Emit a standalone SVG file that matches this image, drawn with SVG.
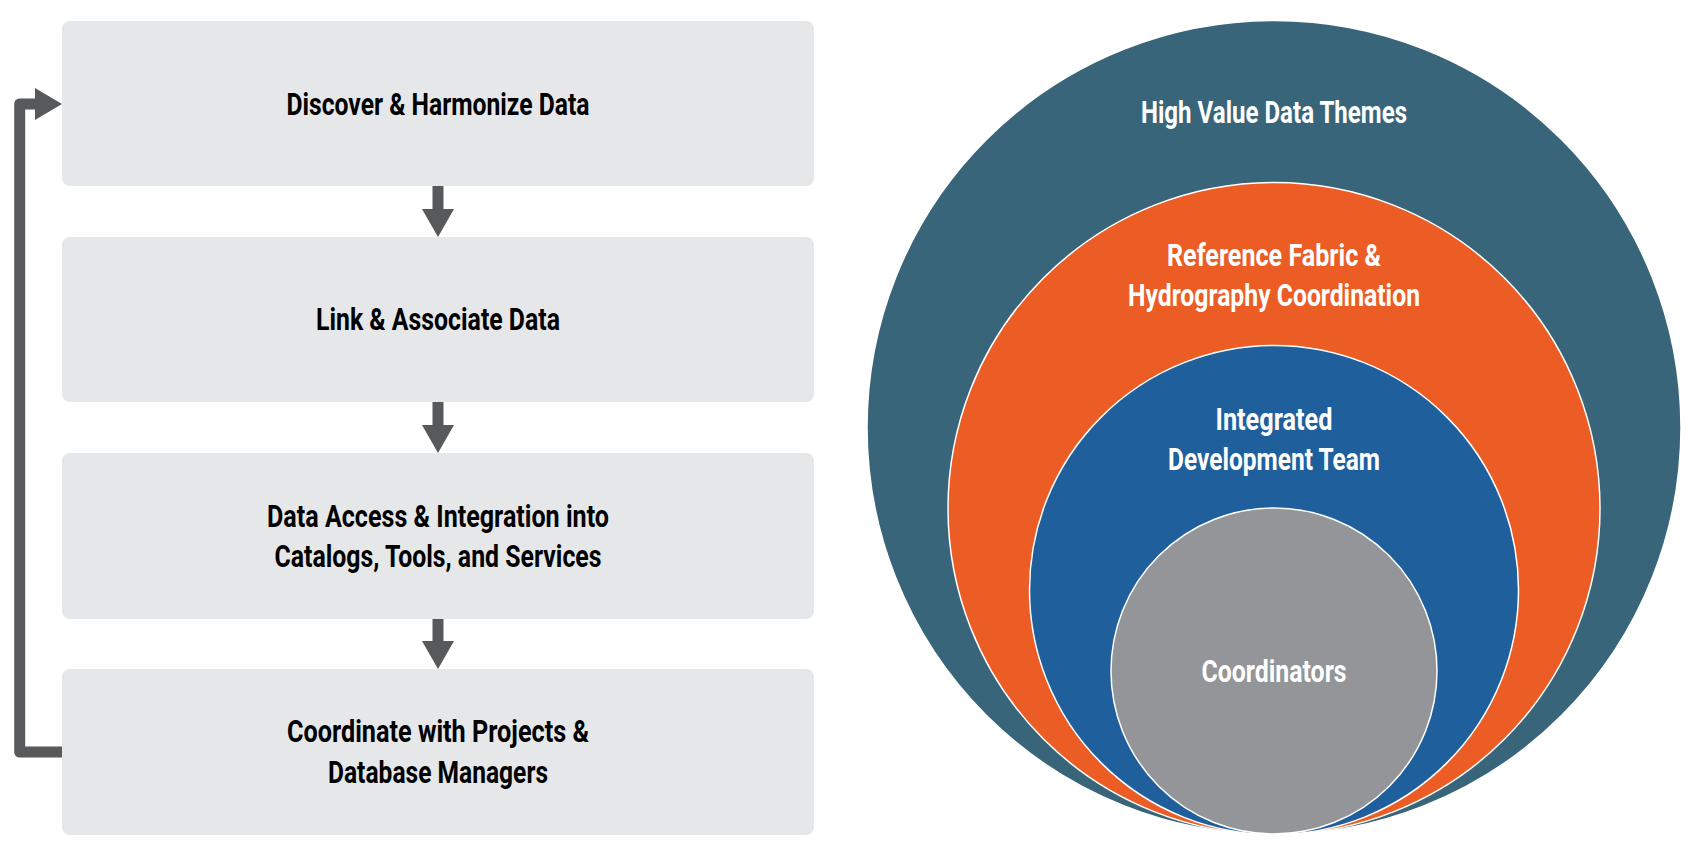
<svg xmlns="http://www.w3.org/2000/svg" width="1702" height="856" viewBox="0 0 1702 856">
  <defs>
    <style>
      .step { fill: #e6e7e9; }
      .step-label { font-family: Roboto, "Liberation Sans", sans-serif; font-weight: 700; font-size: 31px; fill: #000; text-anchor: middle; }
      .ring { stroke: #ffffff; stroke-width: 1.5; }
      .ring-label { font-family: Roboto, "Liberation Sans", sans-serif; font-weight: 700; font-size: 31px; fill: #ffffff; text-anchor: middle; }
      .flow { fill: none; stroke: #58595b; stroke-width: 11; }
      .flow-head { fill: #58595b; }
    </style>
  </defs>

  <rect width="1702" height="856" fill="#ffffff"/>

  <!-- Process steps -->
  <g id="step-discover">
    <rect class="step" x="62" y="21" width="752" height="165" rx="8"/>
    <text class="step-label" x="438" y="115" textLength="303" lengthAdjust="spacingAndGlyphs">Discover &amp; Harmonize Data</text>
  </g>
  <g id="step-link">
    <rect class="step" x="62" y="237" width="752" height="165" rx="8"/>
    <text class="step-label" x="438" y="330" textLength="244" lengthAdjust="spacingAndGlyphs">Link &amp; Associate Data</text>
  </g>
  <g id="step-access">
    <rect class="step" x="62" y="453" width="752" height="166" rx="8"/>
    <text class="step-label" x="438" y="527" textLength="342" lengthAdjust="spacingAndGlyphs">Data Access &amp; Integration into</text>
    <text class="step-label" x="438" y="567" textLength="327" lengthAdjust="spacingAndGlyphs">Catalogs, Tools, and Services</text>
  </g>
  <g id="step-coordinate">
    <rect class="step" x="62" y="669" width="752" height="166" rx="8"/>
    <text class="step-label" x="438" y="742" textLength="302" lengthAdjust="spacingAndGlyphs">Coordinate with Projects &amp;</text>
    <text class="step-label" x="438" y="783" textLength="220" lengthAdjust="spacingAndGlyphs">Database Managers</text>
  </g>

  <!-- Connectors -->
  <g id="connectors">
    <line class="flow" x1="438" y1="186" x2="438" y2="211"/>
    <polygon class="flow-head" points="422,209 454,209 438,237"/>
    <line class="flow" x1="438" y1="402" x2="438" y2="427"/>
    <polygon class="flow-head" points="422,425 454,425 438,453"/>
    <line class="flow" x1="438" y1="619" x2="438" y2="643"/>
    <polygon class="flow-head" points="422,641 454,641 438,669"/>
    <!-- feedback loop back to the first step -->
    <path class="flow" d="M62,752 H19.7 V104 H37" stroke-linejoin="round" stroke-width="10.5"/>
    <polygon class="flow-head" points="35,88 62,104 35,120"/>
  </g>

  <!-- Nested rings -->
  <g id="ring-themes">
    <circle class="ring" cx="1274" cy="427.5" r="407" fill="#386579"/>
    <text class="ring-label" x="1274" y="123" textLength="266" lengthAdjust="spacingAndGlyphs">High Value Data Themes</text>
  </g>
  <g id="ring-fabric">
    <circle class="ring" cx="1274" cy="508.5" r="326" fill="#ec5d26"/>
    <text class="ring-label" x="1274" y="266" textLength="214" lengthAdjust="spacingAndGlyphs">Reference Fabric &amp;</text>
    <text class="ring-label" x="1274" y="306" textLength="292" lengthAdjust="spacingAndGlyphs">Hydrography Coordination</text>
  </g>
  <g id="ring-team">
    <circle class="ring" cx="1274" cy="590" r="244.5" fill="#1f5f9c"/>
    <text class="ring-label" x="1274" y="430" textLength="117" lengthAdjust="spacingAndGlyphs">Integrated</text>
    <text class="ring-label" x="1274" y="470" textLength="212" lengthAdjust="spacingAndGlyphs">Development Team</text>
  </g>
  <g id="ring-coordinators">
    <circle class="ring" cx="1274" cy="671" r="163" fill="#939598"/>
    <text class="ring-label" x="1274" y="682" textLength="145" lengthAdjust="spacingAndGlyphs">Coordinators</text>
  </g>
</svg>
